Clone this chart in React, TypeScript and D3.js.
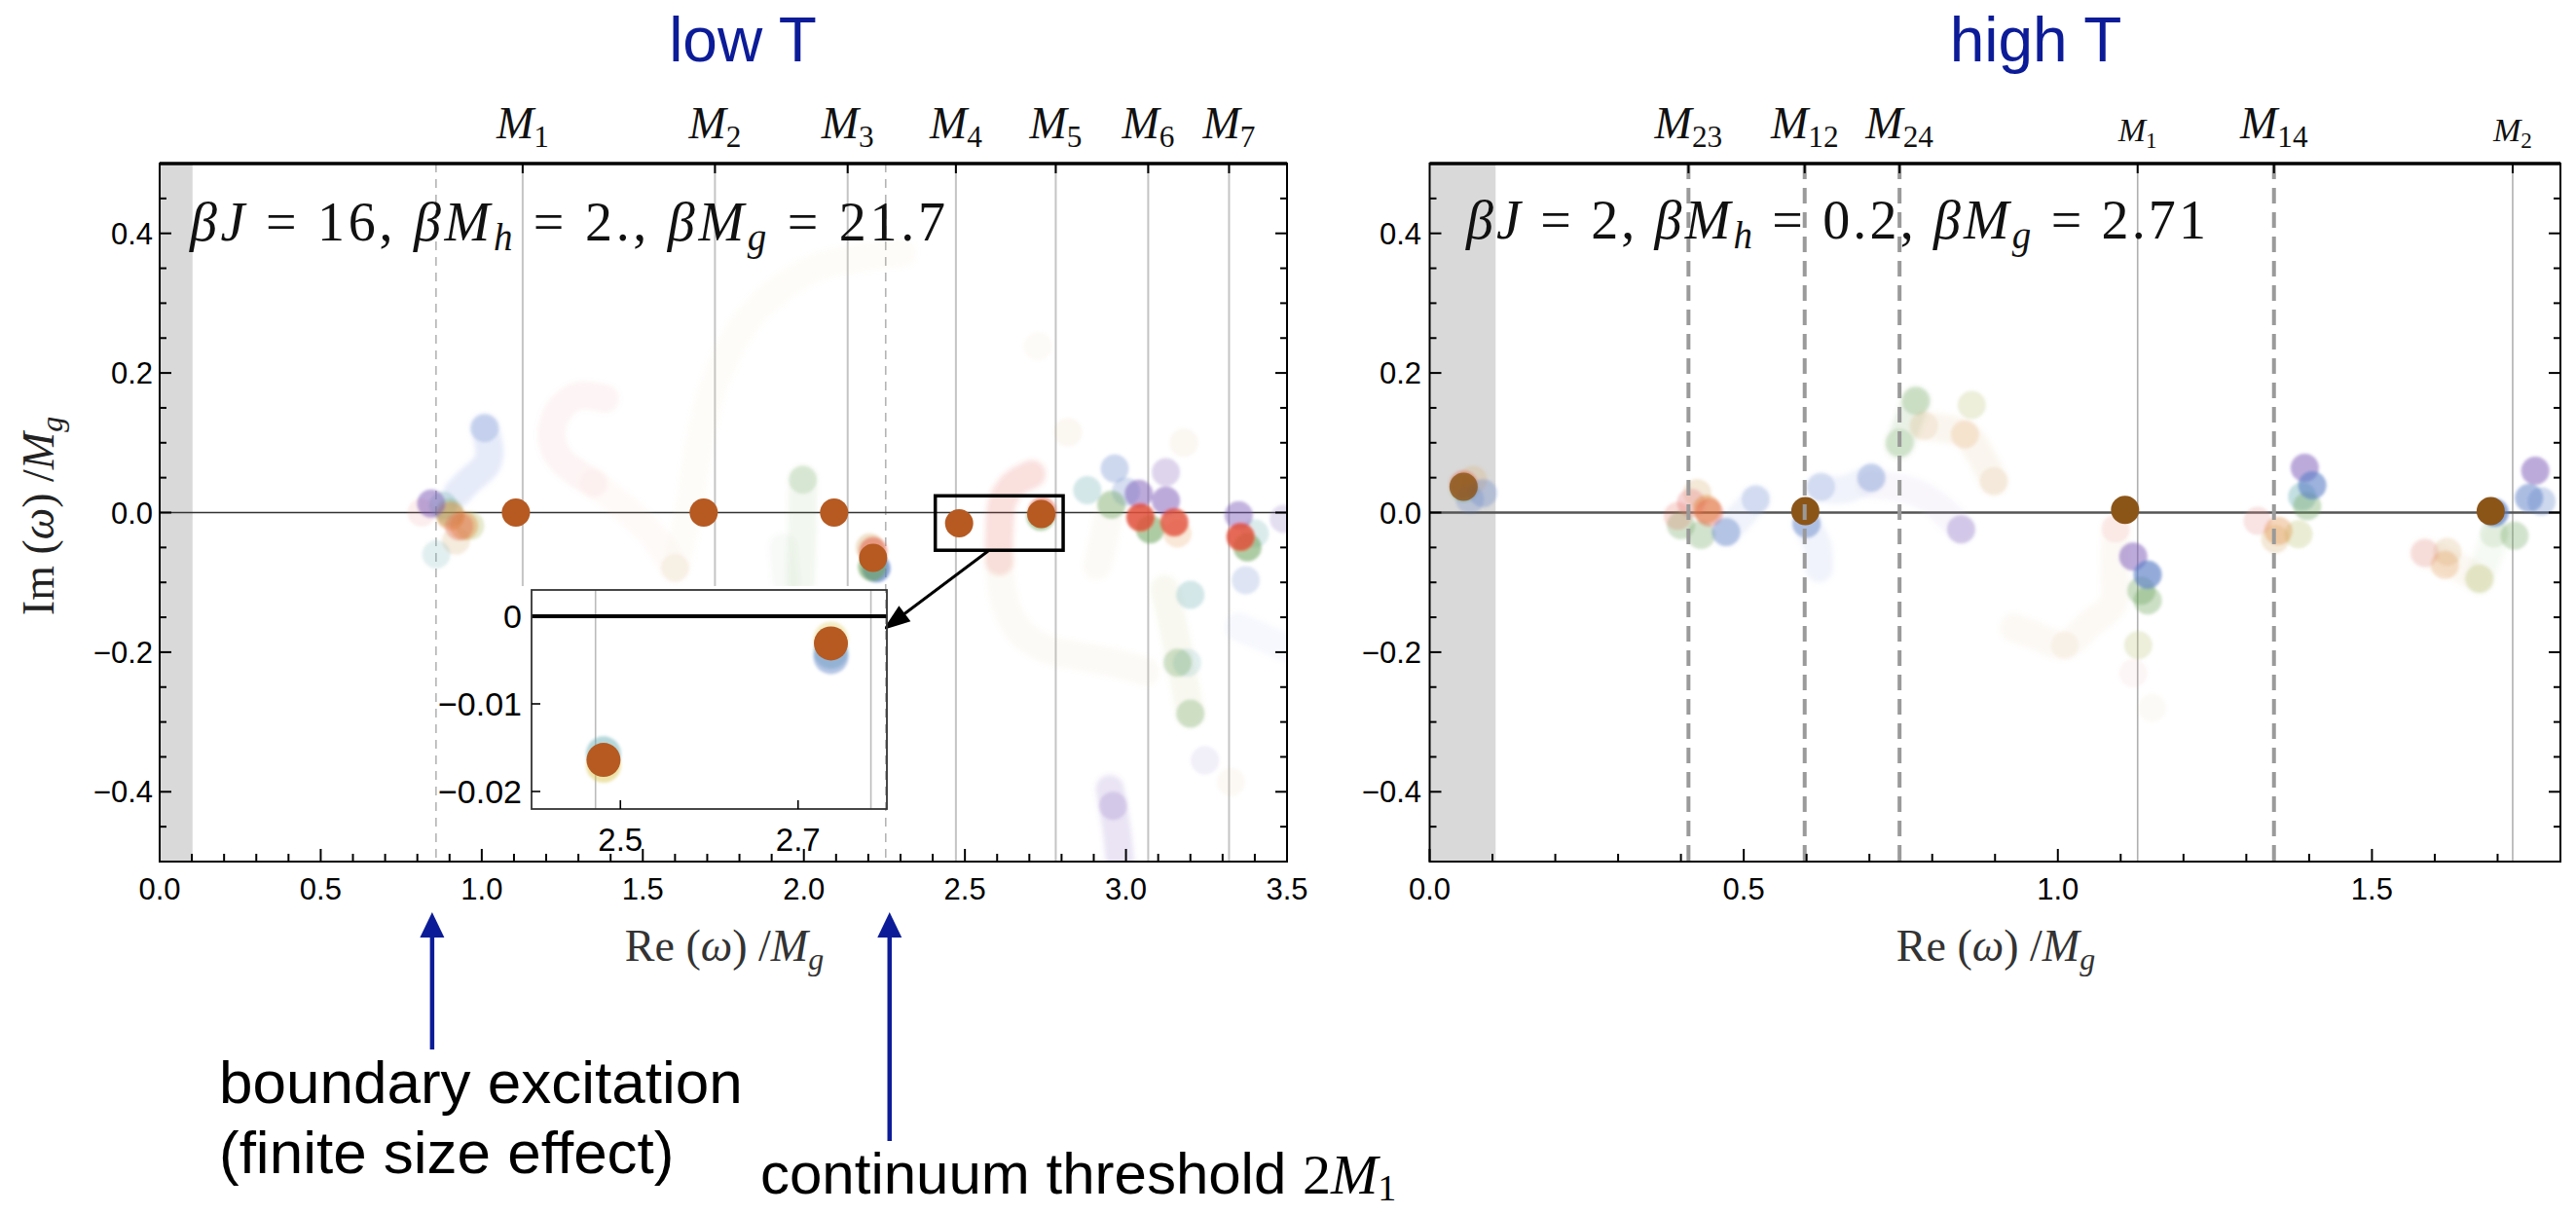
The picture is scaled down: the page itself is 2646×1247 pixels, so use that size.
import React from "react";
import * as d3 from "d3";

type P = [number, number];
type D = [number, number, number];

// ---------------- axes / reference values ----------------
const lowXTicks = [0, 0.5, 1, 1.5, 2, 2.5, 3, 3.5];
const highXTicks = [0, 0.5, 1, 1.5];
const yTickVals = [-0.4, -0.2, 0, 0.2, 0.4];
const lowMassSubs = ["1", "2", "3", "4", "5", "6", "7"];
const lowMassX = [1.127, 1.724, 2.136, 2.472, 2.782, 3.069, 3.32];
const lowDashedX = [0.858, 2.254];
const highMassSubs = ["23", "12", "24", "1", "14", "2"];
const highMassX = [0.412, 0.597, 0.748, 1.127, 1.344, 1.724];
const highMassDashed = [true, true, true, false, true, false];
const insetXTicks = [2.5, 2.7];
const insetYTicks = [0, -0.01, -0.02];
const insetMassX = [2.472, 2.782];
const lowBand = 0.102;
const highBand = 0.105;

// ---------------- highlighted poles ----------------
const lowPoles: P[] = [[1.106, 0], [1.689, 0], [2.094, 0], [2.215, -0.065], [2.482, -0.0153], [2.737, -0.002]];
const highPoles: P[] = [[0.054, 0.037], [0.598, 0.002], [1.107, 0.004], [1.689, 0.002]];
const insetPoles: P[] = [[2.481, -0.0164], [2.737, -0.0031]];

// ---------------- low T: scattered (faded) poles, [x, y, alpha] ----------------
const lowBlueDots: D[] = [[1.009, 0.121, 0.25], [2.225, -0.08, 0.7], [2.965, 0.063, 0.3], [3.0, 0.03, 0.25], [3.372, -0.097, 0.2]];
const lowPurpleDots: D[] = [[0.843, 0.013, 0.5], [3.04, 0.027, 0.5], [3.124, 0.058, 0.25], [3.124, 0.017, 0.5], [3.35, -0.004, 0.45], [3.49, -0.009, 0.2], [3.245, -0.355, 0.1], [2.96, -0.42, 0.2]];
const lowGreenDots: D[] = [[0.9, 0.0, 0.3], [1.997, 0.047, 0.2], [2.212, -0.078, 0.6], [2.735, -0.006, 0.5], [2.955, 0.011, 0.4], [3.075, -0.024, 0.55], [3.377, -0.05, 0.55], [3.16, -0.215, 0.3], [3.2, -0.288, 0.3]];
const lowRedDots: D[] = [[0.93, -0.02, 0.3], [2.215, -0.055, 0.5], [2.74, 0.002, 0.5], [3.045, -0.007, 0.85], [3.15, -0.014, 0.8], [3.356, -0.035, 0.85]];
const lowOrangeDots: D[] = [[0.903, -0.005, 0.45], [0.945, -0.019, 0.4], [3.16, -0.03, 0.2]];
const lowTealDots: D[] = [[0.88, 0.01, 0.3], [0.859, -0.06, 0.2], [2.88, 0.032, 0.3], [3.2, -0.118, 0.3], [3.19, -0.215, 0.2], [3.4, -0.03, 0.25]];
const lowTanDots: D[] = [[0.92, -0.04, 0.25], [2.205, -0.05, 0.4], [2.727, 0.238, 0.06], [2.82, 0.115, 0.1], [3.18, 0.1, 0.1], [3.326, -0.386, 0.08], [1.6, -0.079, 0.12]];
const lowOliveDots: D[] = [[0.964, -0.019, 0.35]];
const lowPinkDots: D[] = [[0.813, 0.0, 0.15]];

// ---------------- low T: pole trajectories ----------------
const lowTrailBlue: P[] = [[0.924, 0.028], [0.964, 0.047], [1.015, 0.069], [1.024, 0.089], [1.009, 0.121]];
const lowTrailPink: P[] = [[1.383, 0.163], [1.297, 0.167], [1.236, 0.144], [1.217, 0.107], [1.247, 0.075], [1.347, 0.042]];
const lowTrailPeach: P[] = [[1.347, 0.042], [1.447, 0.005], [1.529, -0.032], [1.6, -0.079]];
const lowTrailCream: P[] = [[1.6, -0.079], [1.64, -0.005], [1.671, 0.089], [1.719, 0.181], [1.8, 0.26], [1.9, 0.311], [2.05, 0.353], [2.305, 0.372]];
const lowTrailGreen: P[] = [[1.997, 0.047], [1.995, -0.02], [1.99, -0.098]];
const lowTrailGreen2: P[] = [[1.935, -0.05], [1.945, -0.098]];
const lowTrailRed: P[] = [[2.707, 0.055], [2.65, 0.04], [2.616, 0.015], [2.607, -0.03], [2.607, -0.07]];
const lowTrailTan: P[] = [[2.607, -0.07], [2.625, -0.13], [2.67, -0.17], [2.75, -0.195], [2.85, -0.205], [2.96, -0.215], [3.06, -0.228]];
const lowTrailBlueFaint: P[] = [[3.35, -0.164], [3.43, -0.18], [3.51, -0.196]];
const lowTrailPurple: P[] = [[2.95, -0.396], [2.97, -0.45], [2.985, -0.52]];
const lowTrailOlive: P[] = [[3.12, -0.11], [3.15, -0.17], [3.2, -0.288]];
const lowTrailTan2: P[] = [[2.95, 0.007], [2.93, -0.04], [2.91, -0.076]];

// ---------------- high T: scattered poles ----------------
const highBlueDots: D[] = [[0.085, 0.028, 0.3], [0.064, 0.019, 0.25], [0.472, -0.028, 0.4], [0.519, 0.019, 0.2], [0.6, -0.016, 0.45], [0.623, 0.037, 0.2], [0.703, 0.05, 0.3], [1.143, -0.089, 0.65], [1.405, 0.039, 0.6], [1.695, 0.0, 0.7], [1.75, 0.021, 0.5], [1.77, 0.016, 0.3]];
const highPurpleDots: D[] = [[0.846, -0.024, 0.3], [1.12, -0.063, 0.5], [1.393, 0.064, 0.5], [1.76, 0.06, 0.5]];
const highGreenDots: D[] = [[0.054, 0.035, 0.35], [0.432, -0.032, 0.3], [0.4, -0.018, 0.3], [0.774, 0.16, 0.25], [0.748, 0.1, 0.2], [1.133, -0.112, 0.35], [1.143, -0.126, 0.35], [1.397, 0.009, 0.35], [1.727, -0.033, 0.3], [1.694, -0.03, 0.15]];
const highRedDots: D[] = [[0.054, 0.04, 0.4], [0.445, 0.0, 0.35], [0.395, -0.005, 0.2]];
const highPinkDots: D[] = [[0.416, 0.014, 0.4], [1.092, -0.023, 0.15], [1.12, -0.23, 0.08], [1.318, -0.012, 0.25], [1.584, -0.058, 0.25]];
const highOrangeDots: D[] = [[0.441, 0.005, 0.45], [1.351, -0.026, 0.35], [1.616, -0.075, 0.25], [0.852, 0.112, 0.18]];
const highTanDots: D[] = [[0.069, 0.047, 0.3], [0.426, 0.028, 0.3], [0.787, 0.124, 0.18], [0.898, 0.045, 0.18], [1.346, -0.038, 0.3], [1.62, -0.056, 0.25], [1.011, -0.19, 0.1], [1.15, -0.28, 0.07]];
const highOliveDots: D[] = [[0.863, 0.154, 0.25], [1.128, -0.19, 0.25], [1.383, -0.031, 0.3], [1.671, -0.095, 0.3]];
const highTealDots: D[] = [[1.389, 0.023, 0.4]];

// ---------------- high T: trajectories ----------------
const highTrailBlueDown: P[] = [[0.6, -0.016], [0.618, -0.05], [0.62, -0.08]];
const highTrailBlueRight: P[] = [[0.62, 0.035], [0.66, 0.033], [0.703, 0.05]];
const highTrailLavender: P[] = [[0.703, 0.04], [0.76, 0.033], [0.8, 0.016], [0.846, -0.024]];
const highTrailGreenUp: P[] = [[0.748, 0.097], [0.774, 0.16]];
const highTrailTan: P[] = [[0.787, 0.124], [0.852, 0.112], [0.878, 0.08], [0.898, 0.045]];
const highTrailTanLow: P[] = [[1.092, -0.023], [1.09, -0.08], [1.088, -0.13], [1.05, -0.16], [1.011, -0.19], [0.96, -0.175], [0.93, -0.165]];
const highTrailBlueM23: P[] = [[0.472, -0.028], [0.5, 0.0], [0.519, 0.019]];
const highTrailM2: P[] = [[1.584, -0.058], [1.62, -0.07], [1.671, -0.095]];
const highTrailGreenM2: P[] = [[1.671, -0.095], [1.69, -0.05], [1.7, -0.03]];

// ---------------- inset halos ----------------
const insetTealDots: D[] = [[2.481, -0.0157, 0.5], [2.737, -0.0040, 0.4]];
const insetBlueDots: D[] = [[2.737, -0.0046, 0.45]];
const insetYellowDots: D[] = [[2.481, -0.0170, 0.45], [2.737, -0.0026, 0.3]];

const PAL: Record<string, string> = {
  blue: "#5a7ec6", lightblue: "#9fb2e6", purple: "#7a58b8", lavender: "#b6a8dc",
  green: "#6aa35a", red: "#e2503a", orange: "#e08a3a", teal: "#6cb0b4",
  tan: "#d9b37a", cream: "#e8d6b0", pink: "#e89090", peach: "#f0b898", olive: "#b8bf6c",
  yellow: "#d8c040",
};

const lowDotSeries: [string, D[]][] = [
  ["tan", lowTanDots], ["pink", lowPinkDots], ["teal", lowTealDots], ["olive", lowOliveDots],
  ["blue", lowBlueDots], ["green", lowGreenDots], ["orange", lowOrangeDots], ["purple", lowPurpleDots], ["red", lowRedDots],
];
const lowTrails: [string, number, P[]][] = [
  ["lightblue", 0.26, lowTrailBlue], ["pink", 0.09, lowTrailPink], ["peach", 0.07, lowTrailPeach],
  ["cream", 0.07, lowTrailCream], ["green", 0.09, lowTrailGreen], ["green", 0.05, lowTrailGreen2],
  ["red", 0.17, lowTrailRed], ["tan", 0.07, lowTrailTan], ["lightblue", 0.09, lowTrailBlueFaint],
  ["purple", 0.16, lowTrailPurple], ["olive", 0.1, lowTrailOlive], ["tan", 0.07, lowTrailTan2],
];
const highDotSeries: [string, D[]][] = [
  ["tan", highTanDots], ["pink", highPinkDots], ["olive", highOliveDots], ["teal", highTealDots],
  ["green", highGreenDots], ["orange", highOrangeDots], ["red", highRedDots], ["purple", highPurpleDots], ["blue", highBlueDots],
];
const highTrails: [string, number, P[]][] = [
  ["lightblue", 0.16, highTrailBlueDown], ["lightblue", 0.16, highTrailBlueRight], ["lavender", 0.1, highTrailLavender],
  ["green", 0.15, highTrailGreenUp], ["tan", 0.12, highTrailTan], ["tan", 0.08, highTrailTanLow],
  ["lightblue", 0.16, highTrailBlueM23], ["tan", 0.1, highTrailM2], ["green", 0.06, highTrailGreenM2],
];
const insetSeries: [string, D[]][] = [["yellow", insetYellowDots], ["teal", insetTealDots], ["blue", insetBlueDots]];

// ---------------- geometry ----------------
const W = 2646, H = 1247;
const yS = d3.scaleLinear().domain([-0.5, 0.5]).range([885, 168]);
const xLow = d3.scaleLinear().domain([0, 3.5]).range([164, 1322]);
const xHigh = d3.scaleLinear().domain([0, 1.8]).range([1468.5, 2630]);
const xIn = d3.scaleLinear().domain([2.4, 2.8]).range([546, 911]);
const yIn = d3.scaleLinear().domain([-0.022, 0.003]).range([831, 606]);
const R = 14.5;

const SANS = "'Liberation Sans', Arial, sans-serif";
const SERIF = "'Liberation Serif', 'DejaVu Serif', serif";
const BLUE = "#0c1c98";
const LOWPOLE = "#b65a22";
const HIGHPOLE = "#8c5518";

const fmt1 = d3.format(".1f");
const yLab = (v: number) => (Math.abs(v) < 1e-9 ? "0.0" : v < 0 ? "\u2212" + fmt1(-v) : fmt1(v));

function Ticks({ xs, xmax }: { xs: d3.ScaleLinear<number, number>; xmax: number }) {
  const [x0, x1] = xs.range();
  const yt = d3.range(-0.5, 0.5001, 0.05);
  const xt = d3.range(0, xmax + 1e-9, 0.1);
  const els: React.ReactNode[] = [];
  yt.forEach((v, i) => {
    const maj = Math.abs(v / 0.2 - Math.round(v / 0.2)) < 1e-6;
    const L = maj ? 12 : 7;
    els.push(<line key={"yl" + i} x1={x0} x2={x0 + L} y1={yS(v)} y2={yS(v)} stroke="#000" strokeWidth={2} />);
    els.push(<line key={"yr" + i} x1={x1} x2={x1 - L} y1={yS(v)} y2={yS(v)} stroke="#000" strokeWidth={2} />);
  });
  xt.forEach((v, i) => {
    const maj = Math.abs(v / 0.5 - Math.round(v / 0.5)) < 1e-6;
    const L = maj ? 13 : 8;
    els.push(<line key={"xb" + i} x1={xs(v)} x2={xs(v)} y1={885} y2={885 - L} stroke="#000" strokeWidth={2} />);
  });
  return <g>{els}</g>;
}

function Dots({ xs, series, filter }: { xs: d3.ScaleLinear<number, number>; series: [string, D[]][]; filter: string }) {
  return (
    <g filter={filter}>
      {series.map(([c, arr], si) =>
        arr.map((d, i) => <circle key={si + "-" + i} cx={xs(d[0])} cy={yS(d[1])} r={R} fill={PAL[c]} fillOpacity={d[2]} />)
      )}
    </g>
  );
}

function Trails({ xs, trails }: { xs: d3.ScaleLinear<number, number>; trails: [string, number, P[]][] }) {
  const lg = d3.line<P>().x((d) => xs(d[0])).y((d) => yS(d[1])).curve(d3.curveCatmullRom.alpha(0.5));
  return (
    <g filter="url(#blur2)">
      {trails.map(([c, o, pts], i) => (
        <path key={i} d={lg(pts) || ""} fill="none" stroke={PAL[c]} strokeOpacity={o} strokeWidth={2 * R} strokeLinecap="round" strokeLinejoin="round" />
      ))}
    </g>
  );
}

function MassLabel({ x, sub, big }: { x: number; sub: string; big: boolean }) {
  const fs = big ? 46 : 34;
  return (
    <text x={x} y={big ? 142 : 145} textAnchor="middle" fontFamily={SERIF} fontSize={fs} fill="#111">
      <tspan fontStyle="italic">M</tspan>
      <tspan fontSize={fs * 0.68} dy={fs * 0.2}>{sub}</tspan>
    </text>
  );
}

export default function App() {
  const frame = (xs: d3.ScaleLinear<number, number>) => {
    const [a, b] = xs.range();
    return (
      <g>
        <rect x={a} y={168} width={b - a} height={885 - 168} fill="none" stroke="#000" strokeWidth={2} />
        <line x1={a} x2={b} y1={168} y2={168} stroke="#000" strokeWidth={3.5} />
      </g>
    );
  };

  const lowArrowTip: P = [907, 647];
  const lowArrowStart: P = [1015, 566];
  const ang = Math.atan2(lowArrowTip[1] - lowArrowStart[1], lowArrowTip[0] - lowArrowStart[0]);
  const ah = (tip: P, a: number, len: number, half: number) => {
    const bx = tip[0] - len * Math.cos(a), by = tip[1] - len * Math.sin(a);
    const nx = -Math.sin(a) * half, ny = Math.cos(a) * half;
    return `M${tip[0]},${tip[1]}L${bx + nx},${by + ny}L${bx - nx},${by - ny}Z`;
  };

  return (
    <svg width={W} height={H} style={{ position: "absolute", left: 0, top: 0, background: "#fff" }} xmlns="http://www.w3.org/2000/svg">
      <defs>
        <filter id="blur1" x="-10%" y="-10%" width="120%" height="120%"><feGaussianBlur stdDeviation={1.7} /></filter>
        <filter id="blur2" x="-10%" y="-10%" width="120%" height="120%"><feGaussianBlur stdDeviation={2.5} /></filter>
        <clipPath id="clipLow"><rect x={164} y={168} width={1322 - 164} height={885 - 168} /></clipPath>
        <clipPath id="clipHigh"><rect x={1468.5} y={168} width={2630 - 1468.5} height={885 - 168} /></clipPath>
      </defs>
      <rect x={0} y={0} width={W} height={H} fill="#fff" />

      {/* titles */}
      <text x={763} y={63} textAnchor="middle" fontFamily={SANS} fontSize={64} fill={BLUE}>low T</text>
      <text x={2091} y={63} textAnchor="middle" fontFamily={SANS} fontSize={64} fill={BLUE}>high T</text>

      {/* ================= LOW T panel ================= */}
      <g clipPath="url(#clipLow)">
        <rect x={xLow(0)} y={168} width={xLow(lowBand) - xLow(0)} height={885 - 168} fill="#d9d9d9" />
        {lowMassX.map((m, i) => (
          <line key={"lm" + i} x1={xLow(m)} x2={xLow(m)} y1={168} y2={885} stroke="#c4c4c4" strokeWidth={2} />
        ))}
        {lowDashedX.map((m, i) => (
          <line key={"ld" + i} x1={xLow(m)} x2={xLow(m)} y1={168} y2={885} stroke="#b4b4b4" strokeWidth={1.6} strokeDasharray="9 7" />
        ))}
        <line x1={164} x2={1322} y1={yS(0)} y2={yS(0)} stroke="#333" strokeWidth={1.6} />
        <Trails xs={xLow} trails={lowTrails} />
        <Dots xs={xLow} series={lowDotSeries} filter="url(#blur1)" />
        {lowPoles.map((p, i) => (
          <circle key={"lp" + i} cx={xLow(p[0])} cy={yS(p[1])} r={R} fill={LOWPOLE} />
        ))}
      </g>
      <text x={195} y={247} fontFamily={SERIF} fontSize={56} fill="#111" textLength={776} lengthAdjust="spacing" style={{ whiteSpace: "pre" }}>
        <tspan fontStyle="italic">βJ</tspan><tspan> = 16, </tspan><tspan fontStyle="italic">βM</tspan><tspan fontStyle="italic" fontSize={39} dy={10}>h</tspan><tspan dy={-10}> = 2., </tspan><tspan fontStyle="italic">βM</tspan><tspan fontStyle="italic" fontSize={39} dy={10}>g</tspan><tspan dy={-10}> = 21.7</tspan>
      </text>
      {/* zoom box + arrow */}
      <rect x={xLow(2.408)} y={yS(0.024)} width={xLow(2.805) - xLow(2.408)} height={yS(-0.054) - yS(0.024)} fill="none" stroke="#000" strokeWidth={3.5} />
      <line x1={lowArrowStart[0]} y1={lowArrowStart[1]} x2={lowArrowTip[0] - 20 * Math.cos(ang)} y2={lowArrowTip[1] - 20 * Math.sin(ang)} stroke="#000" strokeWidth={3} />
      <path d={ah(lowArrowTip, ang, 28, 10)} fill="#000" />

      {/* inset */}
      <g>
        <rect x={452} y={602} width={909 - 452} height={884 - 602} fill="#fff" />
        {insetMassX.map((m, i) => (
          <line key={"im" + i} x1={xIn(m)} x2={xIn(m)} y1={606} y2={831} stroke="#bbb" strokeWidth={1.6} />
        ))}
        <line x1={546} x2={911} y1={yIn(0)} y2={yIn(0)} stroke="#000" strokeWidth={4} />
        <g filter="url(#blur1)">
          {insetSeries.map(([c, arr], si) =>
            arr.map((d, i) => <circle key={si + "-" + i} cx={xIn(d[0])} cy={yIn(d[1])} r={18} fill={PAL[c]} fillOpacity={d[2]} />)
          )}
        </g>
        {insetPoles.map((p, i) => (
          <circle key={"ip" + i} cx={xIn(p[0])} cy={yIn(p[1])} r={17.5} fill={LOWPOLE} />
        ))}
        <rect x={546} y={606} width={911 - 546} height={831 - 606} fill="none" stroke="#333" strokeWidth={1.8} />
        {insetYTicks.map((v, i) => (
          <g key={"iy" + i}>
            {v !== 0 && <line x1={546} x2={555} y1={yIn(v)} y2={yIn(v)} stroke="#000" strokeWidth={1.6} />}
            <text x={536} y={yIn(v) + 12} textAnchor="end" fontFamily={SANS} fontSize={34} fill="#000">
              {v === 0 ? "0" : "\u2212" + d3.format(".2f")(-v)}
            </text>
          </g>
        ))}
        {insetXTicks.map((v, i) => (
          <g key={"ix" + i}>
            <line x1={xIn(v)} x2={xIn(v)} y1={831} y2={822} stroke="#000" strokeWidth={1.6} />
            <text x={xIn(v)} y={874} textAnchor="middle" fontFamily={SANS} fontSize={33} fill="#000">{d3.format(".1f")(v)}</text>
          </g>
        ))}
      </g>

      {frame(xLow)}
      <Ticks xs={xLow} xmax={3.5} />
      {lowMassX.map((m, i) => (
        <g key={"lml" + i}>
          <line x1={xLow(m)} x2={xLow(m)} y1={168} y2={178} stroke="#000" strokeWidth={2} />
          <MassLabel x={xLow(m)} sub={lowMassSubs[i]} big={true} />
        </g>
      ))}
      {yTickVals.map((v, i) => (
        <text key={"lyt" + i} x={157} y={yS(v) + 11} textAnchor="end" fontFamily={SANS} fontSize={31} fill="#000">{yLab(v)}</text>
      ))}
      {lowXTicks.map((v, i) => (
        <text key={"lxt" + i} x={xLow(v)} y={924} textAnchor="middle" fontFamily={SANS} fontSize={31} fill="#000">{fmt1(v)}</text>
      ))}
      <text x={744} y={987} textAnchor="middle" fontFamily={SERIF} fontSize={46} fill="#333" style={{ whiteSpace: "pre" }}>
        Re (<tspan fontStyle="italic">ω</tspan>) /<tspan fontStyle="italic">M</tspan><tspan fontStyle="italic" fontSize={32} dy={9}>g</tspan>
      </text>
      <text transform="translate(55,530) rotate(-90)" textAnchor="middle" fontFamily={SERIF} fontSize={46} fill="#222" style={{ whiteSpace: "pre" }}>
        Im (<tspan fontStyle="italic">ω</tspan>) /<tspan fontStyle="italic">M</tspan><tspan fontStyle="italic" fontSize={32} dy={9}>g</tspan>
      </text>

      {/* ================= HIGH T panel ================= */}
      <g clipPath="url(#clipHigh)">
        <rect x={xHigh(0)} y={168} width={xHigh(highBand) - xHigh(0)} height={885 - 168} fill="#d9d9d9" />
        {highMassX.map((m, i) =>
          highMassDashed[i] ? null : (
            <line key={"hm" + i} x1={xHigh(m)} x2={xHigh(m)} y1={168} y2={885} stroke="#b0b0b0" strokeWidth={1.6} />
          )
        )}
        <line x1={1468.5} x2={2630} y1={yS(0)} y2={yS(0)} stroke="#555" strokeWidth={2.6} />
        <Trails xs={xHigh} trails={highTrails} />
        <Dots xs={xHigh} series={highDotSeries} filter="url(#blur1)" />
        {highPoles.map((p, i) => (
          <circle key={"hp" + i} cx={xHigh(p[0])} cy={yS(p[1])} r={R} fill={HIGHPOLE} fillOpacity={i === 0 ? 0.8 : 1} />
        ))}
        {highMassX.map((m, i) =>
          highMassDashed[i] ? (
            <line key={"hd" + i} x1={xHigh(m)} x2={xHigh(m)} y1={168} y2={885} stroke="#9a9a9a" strokeWidth={4} strokeDasharray="16 9" />
          ) : null
        )}
      </g>
      <text x={1506} y={245} fontFamily={SERIF} fontSize={56} fill="#111" textLength={760} lengthAdjust="spacing" style={{ whiteSpace: "pre" }}>
        <tspan fontStyle="italic">βJ</tspan><tspan> = 2, </tspan><tspan fontStyle="italic">βM</tspan><tspan fontStyle="italic" fontSize={39} dy={10}>h</tspan><tspan dy={-10}> = 0.2, </tspan><tspan fontStyle="italic">βM</tspan><tspan fontStyle="italic" fontSize={39} dy={10}>g</tspan><tspan dy={-10}> = 2.71</tspan>
      </text>
      {frame(xHigh)}
      <Ticks xs={xHigh} xmax={1.8} />
      {highMassX.map((m, i) => (
        <g key={"hml" + i}>
          <line x1={xHigh(m)} x2={xHigh(m)} y1={168} y2={178} stroke="#000" strokeWidth={2} />
          <MassLabel x={xHigh(m)} sub={highMassSubs[i]} big={highMassDashed[i]} />
        </g>
      ))}
      {yTickVals.map((v, i) => (
        <text key={"hyt" + i} x={1460} y={yS(v) + 11} textAnchor="end" fontFamily={SANS} fontSize={31} fill="#000">{yLab(v)}</text>
      ))}
      {highXTicks.map((v, i) => (
        <text key={"hxt" + i} x={xHigh(v)} y={924} textAnchor="middle" fontFamily={SANS} fontSize={31} fill="#000">{fmt1(v)}</text>
      ))}
      <text x={2050} y={987} textAnchor="middle" fontFamily={SERIF} fontSize={46} fill="#333" style={{ whiteSpace: "pre" }}>
        Re (<tspan fontStyle="italic">ω</tspan>) /<tspan fontStyle="italic">M</tspan><tspan fontStyle="italic" fontSize={32} dy={9}>g</tspan>
      </text>

      {/* ================= annotations ================= */}
      <line x1={xLow(lowDashedX[0]) - 4} x2={xLow(lowDashedX[0]) - 4} y1={1078} y2={958} stroke={BLUE} strokeWidth={4.5} />
      <path d={ah([xLow(lowDashedX[0]) - 4, 937], -Math.PI / 2, 26, 12.5)} fill={BLUE} />
      <line x1={xLow(lowDashedX[1]) + 4} x2={xLow(lowDashedX[1]) + 4} y1={1172} y2={958} stroke={BLUE} strokeWidth={4.5} />
      <path d={ah([xLow(lowDashedX[1]) + 4, 937], -Math.PI / 2, 26, 12.5)} fill={BLUE} />
      <text x={225} y={1133} fontFamily={SANS} fontSize={62} fill="#000">boundary excitation</text>
      <text x={225} y={1205} fontFamily={SANS} fontSize={62} fill="#000">(finite size effect)</text>
      <text x={781} y={1226} fontFamily={SANS} fontSize={60} fill="#000" style={{ whiteSpace: "pre" }}>
        continuum threshold <tspan fontFamily={SERIF} fontSize={58}>2</tspan><tspan fontFamily={SERIF} fontSize={58} fontStyle="italic">M</tspan><tspan fontFamily={SERIF} fontSize={38} dy={7}>1</tspan>
      </text>
    </svg>
  );
}
